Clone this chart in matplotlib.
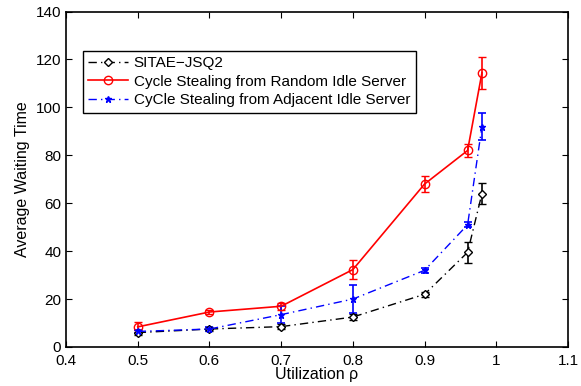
import matplotlib
matplotlib.use("Agg")
import matplotlib.pyplot as plt
from matplotlib.lines import Line2D

plt.rcParams['font.family'] = ['Liberation Sans', 'DejaVu Sans']

util = [0.5, 0.6, 0.7, 0.8, 0.9, 0.96, 0.98]
jsq2 = [6.0, 7.5, 8.5, 12.5, 22.0, 39.5, 64.0]
jsq2_err = [1.0, 0.8, 1.0, 1.2, 1.0, 4.5, 4.5]
random_cs = [8.4, 14.6, 17.0, 32.3, 68.0, 82.0, 114.4]
random_err = [2.0, 1.0, 1.5, 4.0, 3.5, 2.8, 6.7]
adjacent_cs = [6.5, 7.5, 13.5, 20.0, 32.0, 51.0, 92.0]
adjacent_err = [0.8, 0.8, 3.5, 6.0, 1.0, 1.0, 5.5]

labels = ["SITAE\u2212JSQ2", "Cycle Stealing from Random Idle Server",
          "CyCle Stealing from Adjacent Idle Server"]
xticks = [0.4, 0.5, 0.6, 0.7, 0.8, 0.9, 1.0, 1.1]
xticklabels = ["0.4", "0.5", "0.6", "0.7", "0.8", "0.9", "1", "1.1"]
yticks = [0, 20, 40, 60, 80, 100, 120, 140]

fig = plt.figure(figsize=(5.81, 3.86), dpi=100)
ax = fig.add_axes([66/581, 1-347/386, (568-66)/581, (347-11.5)/386])

dashdot = (0, (6, 3, 1, 3))
styles = [
    dict(color='black', ls=dashdot, lw=1.0, marker='D', ms=4.5, mfc='white', mec='black', mew=1.0),
    dict(color='red', ls='-', lw=1.2, marker='o', ms=6, mfc='none', mec='red', mew=1.0),
    dict(color='blue', ls=dashdot, lw=1.0, marker='*', ms=5, mfc='blue', mec='blue'),
]
series = [(jsq2, jsq2_err), (random_cs, random_err), (adjacent_cs, adjacent_err)]

handles = []
for (vals, err), st, lab in zip(series, styles, labels):
    ax.errorbar(util, vals, yerr=err, capsize=3, elinewidth=1.2, capthick=1.2, **st)
    handles.append(Line2D([], [], **st))

ax.set_xlim(0.4, 1.1)
ax.set_ylim(0, 140)
ax.set_xticks(xticks)
ax.set_xticklabels(xticklabels)
ax.set_yticks(yticks)
ax.tick_params(direction='in', length=4, labelsize=11, top=True, right=True, width=0.8)
ax.tick_params(axis='x', pad=5)
for s in ax.spines.values():
    s.set_linewidth(1.2)
ax.set_xlabel("Utilization \u03c1", fontsize=11.5, labelpad=-1)
ax.set_ylabel("Average Waiting Time", fontsize=11.5, labelpad=4)

leg = ax.legend(handles, labels, loc='upper left', bbox_to_anchor=(0.033, 0.883), fontsize=11,
                frameon=True, fancybox=False, edgecolor='black', framealpha=1,
                borderpad=0.35, labelspacing=0.3, handlelength=2.6, handletextpad=0.4,
                borderaxespad=0)
leg.get_frame().set_linewidth(1.0)

fig.savefig("out.png", dpi=100)
